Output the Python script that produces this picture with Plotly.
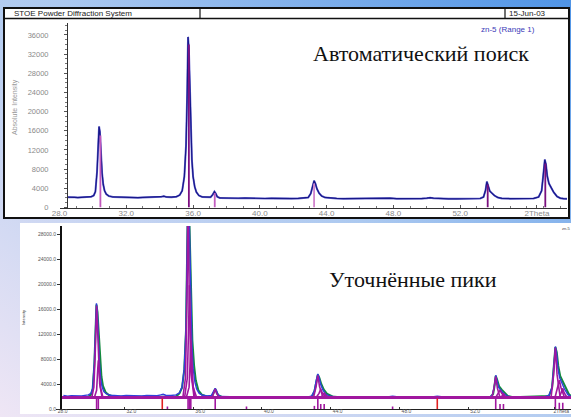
import base64
import plotly.graph_objects as go

W, H = 571, 417

# ---------------- data ----------------
# measured powder pattern (2theta, counts)
obs_2theta = [28.45, 28.7, 28.9, 29.1, 29.3, 29.5, 29.7, 29.9, 30.05, 30.15, 30.25, 30.32, 30.37,
              30.42, 30.48, 30.55, 30.62, 30.7, 30.8, 30.95, 31.2, 31.5, 31.8, 32.1, 32.4, 32.7,
              33.0, 33.3, 33.6, 33.9, 34.1, 34.25, 34.4, 34.7, 35.0, 35.2, 35.35, 35.48, 35.58,
              35.65, 35.70, 35.75, 35.80, 35.86, 35.93, 36.0, 36.1, 36.2, 36.35, 36.55, 36.8,
              37.05, 37.18, 37.28, 37.36, 37.45, 37.6, 37.9, 38.3, 38.7, 39.1, 39.5, 39.9, 40.3,
              40.7, 41.1, 41.5, 41.9, 42.3, 42.7, 42.9, 43.05, 43.15, 43.25, 43.33, 43.42, 43.55,
              43.7, 43.9, 44.2, 44.6, 45.0, 45.5, 46.0, 46.5, 47.0, 47.4, 47.6, 47.8, 48.2, 48.7,
              49.2, 49.7, 50.0, 50.2, 50.4, 50.8, 51.3, 51.8, 52.3, 52.8, 53.2, 53.4, 53.52, 53.6,
              53.68, 53.78, 53.9, 54.05, 54.25, 54.5, 55.0, 55.5, 56.0, 56.4, 56.7, 56.88, 56.98,
              57.07, 57.14, 57.22, 57.32, 57.45, 57.6, 57.8, 58.0, 58.2, 58.4]
obs_counts = [2150, 2050, 2120, 2080, 2150, 2100, 2180, 2250, 2500, 3300, 7500, 13500, 16900,
              15800, 11500, 7200, 4800, 3500, 2800, 2400, 2200, 2150, 2100, 2180, 2120, 2060,
              2100, 2150, 2080, 2130, 2250, 2350, 2200, 2150, 2250, 2600, 3500, 6500, 13000,
              24000, 35600, 33000, 25000, 16500, 10000, 6500, 4300, 3200, 2500, 2200, 2100,
              2150, 2700, 3300, 2900, 2250, 2000, 1950, 2000, 1930, 1980, 1900, 1950, 1880,
              1920, 1870, 1900, 1860, 1900, 1950, 2100, 2900, 4500, 5600, 5000, 3900, 3000,
              2400, 2100, 1950, 1900, 1850, 1880, 1850, 1870, 1860, 1950, 2050, 1950, 1850, 1820,
              1830, 1870, 1950, 2050, 1950, 1830, 1800, 1820, 1800, 1830, 1880, 2200, 3600, 5400,
              4600, 3400, 3000, 2500, 2100, 1900, 1850, 1820, 1870, 1900, 2200, 3500, 6800,
              10000, 9000, 6500, 5000, 4200, 3200, 2300, 1950, 1850, 1820]

# search-match reference lines (top panel)
ref_2theta = [30.45, 35.75, 37.3, 43.25, 53.65, 57.1]
ref_counts = [15000, 34000, 3000, 5000, 4800, 9200]

# refined profile: calculated sum
calc_2theta = [28.3, 29.9, 30.05, 30.15, 30.25, 30.32, 30.37, 30.43, 30.5, 30.58, 30.66, 30.75,
               30.9, 31.1, 31.5, 35.0, 35.2, 35.35, 35.48, 35.58, 35.65, 35.70, 35.76, 35.82,
               35.88, 35.95, 36.05, 36.15, 36.3, 36.5, 36.8, 37.1, 37.28, 37.45, 37.7, 42.9,
               43.05, 43.15, 43.25, 43.34, 43.45, 43.6, 43.8, 44.1, 44.5, 53.3, 53.45, 53.52,
               53.6, 53.68, 53.8, 53.95, 54.1, 54.3, 54.6, 56.7, 56.88, 56.98, 57.07, 57.15,
               57.24, 57.35, 57.5, 57.65, 57.85, 58.0]
calc_counts = [1900, 1950, 2300, 3200, 7200, 13300, 16700, 15500, 11800, 7600, 5200, 3700,
               2700, 2200, 1950, 2000, 2500, 3400, 6300, 12500, 23500, 35000, 32000, 24500,
               17000, 11000, 7000, 4600, 3000, 2300, 2000, 2050, 3200, 2200, 1900, 1950,
               2800, 4400, 5500, 5000, 4000, 3100, 2400, 2000, 1900, 1950, 2400, 3500,
               5300, 4700, 3600, 3100, 2600, 2100, 1900, 2100, 3400, 6700, 9900, 9100,
               6900, 5300, 4400, 3400, 2400, 2000]

# refined profile: individual peak components
comp_2theta = [
    [30.1, 30.22, 30.3, 30.35, 30.38, 30.42, 30.48, 30.56, 30.7],
    [30.25, 30.38, 30.45, 30.48, 30.52, 30.6, 30.75],
    [35.4, 35.55, 35.64, 35.70, 35.76, 35.86, 36.05],
    [35.5, 35.66, 35.74, 35.78, 35.83, 35.92, 36.1],
    [35.6, 35.76, 35.83, 35.87, 35.92, 36.0, 36.2],
    [37.1, 37.2, 37.28, 37.36, 37.5],
    [43.0, 43.15, 43.25, 43.35, 43.55],
    [43.15, 43.32, 43.42, 43.52, 43.75],
    [43.4, 43.55, 43.62, 43.7, 43.9],
    [53.38, 53.5, 53.6, 53.7, 53.85],
    [53.6, 53.75, 53.85, 53.95, 54.15],
    [53.85, 53.98, 54.05, 54.12, 54.3],
    [56.82, 56.97, 57.07, 57.17, 57.35],
    [57.05, 57.2, 57.3, 57.4, 57.6],
    [57.3, 57.42, 57.5, 57.58, 57.75],
]
comp_counts = [
    [1850, 3500, 9000, 14500, 16500, 14000, 8500, 4000, 1850],
    [1850, 3000, 6500, 7800, 6500, 3500, 1850],
    [1850, 5000, 18000, 34000, 20000, 6000, 1850],
    [1850, 5000, 14000, 19800, 14000, 5000, 1850],
    [1850, 3500, 8000, 11000, 8000, 3500, 1850],
    [1850, 2500, 3200, 2500, 1850],
    [1850, 3600, 5400, 3600, 1850],
    [1850, 2500, 3200, 2500, 1850],
    [1850, 2200, 2600, 2200, 1850],
    [1850, 3300, 5200, 3300, 1850],
    [1850, 2500, 3000, 2500, 1850],
    [1850, 2100, 2500, 2100, 1850],
    [1850, 5500, 9800, 5500, 1850],
    [1850, 3400, 4600, 3400, 1850],
    [1850, 2600, 3300, 2600, 1850],
]
background_2theta = [28.3, 57.98]
background_counts = [1850, 1850]

# refined reflection positions (bottom panel markers)
refl_2theta = [30.38, 30.48, 34.5, 35.70, 35.78, 35.86, 37.28, 39.1, 43.05, 43.25, 43.42,
               43.62, 47.6, 53.6, 53.85, 54.05, 57.07, 57.3, 57.5]
refl_counts = [1850, 1850, 400, 1850, 1850, 1850, 1850, 400, 500, 1850, 800,
               800, 400, 1850, 800, 800, 1850, 1000, 1000]
impurity_2theta = [34.2, 50.2]
impurity_counts = [1700, 1700]

top_yticks = [0, 4000, 8000, 12000, 16000, 20000, 24000, 28000, 32000, 36000]
top_xticks = [28, 32, 36, 40, 44, 48, 52, 56.6]
top_xlabels = ["28.0", "32.0", "36.0", "40.0", "44.0", "48.0", "52.0", "2Theta"]
bot_yticks = [0, 4000, 8000, 12000, 16000, 20000, 24000, 28000]
bot_xticks = [28, 32, 36, 40, 44, 48, 52, 57]
bot_xlabels = ["28.0", "32.0", "36.0", "40.0", "44.0", "48.0", "52.0", "2Theta"]

# ---------------- styling ----------------
REF_COLORS = ["#c257bd", "#7d0f82", "#c25ec0", "#d083cc", "#7a107e", "#7a107e"]
OBS_TOP = "#17178a"
OBS_BOT = "#2f3fdc"
CALC = "#138a3e"
COMP = "#a0179f"
IMPURITY = "#e02020"
SANS = "Liberation Sans, Arial"
SERIF = "Liberation Serif, Times New Roman, serif"


def px(x):
    return x / W


def py(y):
    return 1 - y / H


def sticks(xs, ys):
    sx, sy = [], []
    for x, y in zip(xs, ys):
        sx += [x, x, None]
        sy += [0, y, None]
    return sx, sy


fig = go.Figure()

# ---- top panel: search-match ----
fig.add_trace(go.Scatter(x=obs_2theta, y=obs_counts, mode="lines",
                         line=dict(color="#6a6ad0", width=2.0), xaxis="x", yaxis="y",
                         hoverinfo="skip", showlegend=False))
fig.add_trace(go.Scatter(x=obs_2theta, y=obs_counts, mode="lines",
                         line=dict(color=OBS_TOP, width=1.2), xaxis="x", yaxis="y",
                         showlegend=False))
for i, (x, y) in enumerate(zip(ref_2theta, ref_counts)):
    fig.add_trace(go.Scatter(x=[x, x], y=[0, y], mode="lines",
                             line=dict(color=REF_COLORS[i], width=1.8),
                             xaxis="x", yaxis="y", showlegend=False))

# ---- bottom panel: refined peaks ----
fig.add_trace(go.Scatter(x=calc_2theta, y=calc_counts, mode="lines",
                         line=dict(color=CALC, width=2), xaxis="x2", yaxis="y2",
                         showlegend=False))
fig.add_trace(go.Scatter(x=obs_2theta, y=obs_counts, mode="lines",
                         line=dict(color=OBS_BOT, width=1.4), xaxis="x2", yaxis="y2",
                         showlegend=False))
cx, cy = [], []
for xs, ys in zip(comp_2theta, comp_counts):
    cx += xs + [None]
    cy += ys + [None]
fig.add_trace(go.Scatter(x=cx, y=cy, mode="lines", line=dict(color=COMP, width=1.6),
                         xaxis="x2", yaxis="y2", showlegend=False, connectgaps=False))
fig.add_trace(go.Scatter(x=background_2theta, y=background_counts, mode="lines",
                         line=dict(color=COMP, width=3), xaxis="x2", yaxis="y2",
                         showlegend=False))
sx, sy = sticks(refl_2theta, refl_counts)
fig.add_trace(go.Scatter(x=sx, y=sy, mode="lines", line=dict(color=COMP, width=1.6),
                         xaxis="x2", yaxis="y2", showlegend=False))
sx, sy = sticks(impurity_2theta, impurity_counts)
fig.add_trace(go.Scatter(x=sx, y=sy, mode="lines", line=dict(color=IMPURITY, width=1.6),
                         xaxis="x2", yaxis="y2", showlegend=False))

# slide background gradient
svg = ("<svg xmlns='http://www.w3.org/2000/svg' width='571' height='417' "
       "preserveAspectRatio='none'><defs><linearGradient id='g' x1='1' y1='0' x2='0' y2='1'>"
       "<stop offset='0' stop-color='#4f94e6'/><stop offset='0.45' stop-color='#acc9f0'/>"
       "<stop offset='1' stop-color='#efe6f5'/></linearGradient></defs>"
       "<rect width='571' height='417' fill='url(#g)'/></svg>")
bg_src = "data:image/svg+xml;base64," + base64.b64encode(svg.encode()).decode()

shapes = [
    # top report frame
    dict(type="rect", xref="paper", yref="paper", x0=px(4), x1=px(569), y0=py(218), y1=py(8),
         fillcolor="white", line=dict(color="#111", width=2), layer="below"),
    dict(type="line", xref="paper", yref="paper", x0=px(4), x1=px(569), y0=py(18.5), y1=py(18.5),
         line=dict(color="#111", width=1.5), layer="below"),
    dict(type="line", xref="paper", yref="paper", x0=px(200), x1=px(200), y0=py(8), y1=py(18.5),
         line=dict(color="#111", width=1.2), layer="below"),
    dict(type="line", xref="paper", yref="paper", x0=px(505), x1=px(505), y0=py(8), y1=py(18.5),
         line=dict(color="#111", width=1.2), layer="below"),
    # bottom panel sheet
    dict(type="rect", xref="paper", yref="paper", x0=px(20), x1=px(571), y0=py(414), y1=py(223),
         fillcolor="white", line=dict(width=0), layer="below"),
]

annotations = [
    dict(text="STOE Powder Diffraction System", x=px(12), y=py(13.5), xref="paper", yref="paper",
         xanchor="left", yanchor="middle", showarrow=False,
         font=dict(family=SANS, size=8, color="#222")),
    dict(text="15-Jun-03", x=px(527), y=py(13.5), xref="paper", yref="paper",
         xanchor="center", yanchor="middle", showarrow=False,
         font=dict(family=SANS, size=8, color="#222")),
    dict(text="zn-5 (Range 1)", x=px(508), y=py(29), xref="paper", yref="paper",
         xanchor="center", yanchor="middle", showarrow=False,
         font=dict(family=SANS, size=8, color="#3a3ab8")),
    dict(text="Автоматический поиск", x=px(421), y=py(54), xref="paper", yref="paper",
         xanchor="center", yanchor="middle", showarrow=False,
         font=dict(family=SERIF, size=22, color="#111")),
    dict(text="Уточнённые пики", x=px(413), y=py(279), xref="paper", yref="paper",
         xanchor="center", yanchor="middle", showarrow=False,
         font=dict(family=SERIF, size=22, color="#111")),
    dict(text="Absolute Intensity", x=px(15), y=py(107), xref="paper", yref="paper",
         xanchor="center", yanchor="middle", showarrow=False, textangle=-90,
         font=dict(family=SANS, size=7, color="#999")),
    dict(text="Intensity", x=px(23), y=py(318), xref="paper", yref="paper",
         xanchor="center", yanchor="middle", showarrow=False, textangle=-90,
         font=dict(family=SANS, size=4, color="#333")),
    dict(text="zn-5", x=px(560), y=py(228), xref="paper", yref="paper",
         xanchor="left", yanchor="middle", showarrow=False,
         font=dict(family=SANS, size=4, color="#444")),
]

fig.update_layout(
    template="none",
    width=W, height=H, margin=dict(l=0, r=0, t=0, b=0, pad=0),
    paper_bgcolor="#b4cdf0", plot_bgcolor="rgba(0,0,0,0)",
    showlegend=False,
    images=[dict(source=bg_src, xref="paper", yref="paper", x=0, y=1, sizex=1, sizey=1,
                 sizing="stretch", xanchor="left", yanchor="top", layer="below")],
    shapes=shapes, annotations=annotations,
    xaxis=dict(domain=[px(59.5), px(567)], range=[28, 58.4], anchor="y", automargin=False,
               showgrid=False, zeroline=False, showline=True, linecolor="#333", linewidth=1,
               tickvals=top_xticks, ticktext=top_xlabels, ticks="inside", ticklen=3,
               tickcolor="#555", ticklabelstandoff=-2,
               tickfont=dict(family=SANS, size=8, color="#8a8a8a"),
               minor=dict(dtick=1, ticks="inside", ticklen=2, tickcolor="#777")),
    yaxis=dict(domain=[py(207.5), py(23)], range=[0, 38500], anchor="free", position=px(67),
               automargin=False, tickformat="d",
               showgrid=False, zeroline=False, showline=True, linecolor="#333", linewidth=1,
               tickvals=top_yticks, ticks="outside", ticklen=3, tickcolor="#555",
               ticklabelstandoff=14,
               tickfont=dict(family=SANS, size=7.5, color="#8a8a8a"),
               minor=dict(dtick=1000, ticks="outside", ticklen=2, tickcolor="#777")),
    xaxis2=dict(domain=[px(55.7), 1], range=[28, 57.98], anchor="y2", automargin=False,
                showgrid=False, zeroline=False, showline=True, linecolor="#222", linewidth=1,
                tickvals=bot_xticks, ticktext=bot_xlabels, ticks="inside", ticklen=2,
                tickcolor="#333", ticklabelshift=7, ticklabelstandoff=-3,
                tickfont=dict(family=SANS, size=5, color="#555")),
    yaxis2=dict(domain=[py(409), py(226)], range=[0, 29280], anchor="free", position=px(61),
                automargin=False,
                showgrid=False, zeroline=False, showline=True, linecolor="#111", linewidth=2,
                tickvals=bot_yticks, tickformat=".1f", ticks="outside", ticklen=3,
                tickcolor="#333",
                tickfont=dict(family=SANS, size=5, color="#555")),
)

fig.write_html("out.html")
